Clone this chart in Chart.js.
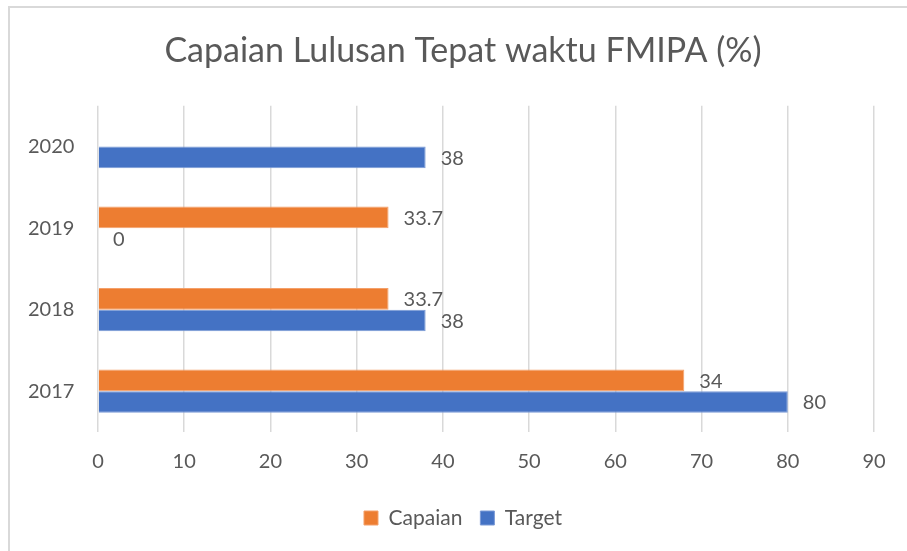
<!DOCTYPE html>
<html>
<head>
<meta charset="utf-8">
<script src="https://cdn.jsdelivr.net/npm/chart.js@4"></script>
<style>
    html, body { margin: 0; padding: 0; background: #fff; }
    #wrap { position: relative; width: 907px; height: 551px; overflow: hidden; }
    #frame { position: absolute; left: 8px; top: 6px; width: 1000px; height: 1000px;
             border-top: 2px solid #d9d9d9; border-left: 2px solid #d9d9d9; }
    canvas { position: absolute; left: 0; top: 0; }
</style>
</head>
<body>
<div id="wrap">
    <div id="frame"></div>
    <canvas id="chart" width="907" height="551"></canvas>
</div>
<script>
// Chart data (top to bottom on the y axis)
const years = ['2020', '2019', '2018', '2017'];
const capaianValues = [null, 33.7, 33.7, 68];
const targetValues = [38, 0, 38, 80];
// Labels as printed in the source chart
const capaianLabels = ['', '33.7', '33.7', '34'];
const targetLabels = ['38', '0', '38', '80'];
const xTicks = [0, 10, 20, 30, 40, 50, 60, 70, 80, 90];

const FONT = 'Lato, "Open Sans", sans-serif';
const TEXT = '#595959';

// Simple data label plugin: text at the end of each bar
const barLabels = {
    id: 'barLabels',
    afterDatasetsDraw(chart) {
        const ctx = chart.ctx;
        const labelSets = [capaianLabels, targetLabels];
        ctx.save();
        ctx.font = '20px ' + FONT;
        ctx.fillStyle = TEXT;
        ctx.textBaseline = 'middle';
        ctx.textAlign = 'left';
        chart.data.datasets.forEach((ds, i) => {
            const meta = chart.getDatasetMeta(i);
            meta.data.forEach((bar, j) => {
                const text = labelSets[i][j];
                if (!text || ds.data[j] === null) return;
                ctx.fillText(text, bar.x + 15, bar.y + 1);
            });
        });
        ctx.restore();
    }
};

new Chart(document.getElementById('chart').getContext('2d'), {
    type: 'bar',
    data: {
        labels: years,
        datasets: [
            {
                label: 'Capaian',
                data: capaianValues,
                backgroundColor: '#ED7D31',
                borderColor: '#F4A06A',
                borderWidth: 1,
                barPercentage: 1,
                categoryPercentage: 0.53
            },
            {
                label: 'Target',
                data: targetValues,
                backgroundColor: '#4472C4',
                borderColor: '#7A9AD6',
                borderWidth: 1,
                barPercentage: 1,
                categoryPercentage: 0.53
            }
        ]
    },
    options: {
        indexAxis: 'y',
        responsive: false,
        animation: false,
        // left padding chosen so title and legend centre near x=463
        layout: { padding: { left: 52, right: 33, top: 0, bottom: 12.5 } },
        plugins: {
            title: {
                display: true,
                text: 'Capaian Lulusan Tepat waktu FMIPA (%)',
                color: TEXT,
                font: { family: FONT, size: 34, weight: 'normal' },
                padding: { top: 31, bottom: 34 }
            },
            legend: {
                position: 'bottom',
                labels: {
                    color: TEXT,
                    font: { family: FONT, size: 21 },
                    boxWidth: 14,
                    boxHeight: 14,
                    padding: 18
                }
            },
            tooltip: { enabled: false }
        },
        scales: {
            x: {
                min: 0,
                max: 90,
                afterBuildTicks(scale) {
                    scale.ticks = xTicks.map(v => ({ value: v }));
                },
                afterFit(scale) { scale.height = 57.5; },
                grid: { color: '#d9d9d9', lineWidth: 1.5, drawTicks: false },
                border: { display: false },
                ticks: { color: TEXT, font: { family: FONT, size: 20 }, padding: 18 }
            },
            y: {
                afterFit(scale) { scale.width = 46; },
                grid: { display: false },
                border: { display: false },
                // mirrored with negative padding so labels sit at x=28 without clipping
                ticks: { color: TEXT, font: { family: FONT, size: 20 }, mirror: true, padding: -70 }
            }
        }
    },
    plugins: [barLabels]
});
</script>
</body>
</html>
